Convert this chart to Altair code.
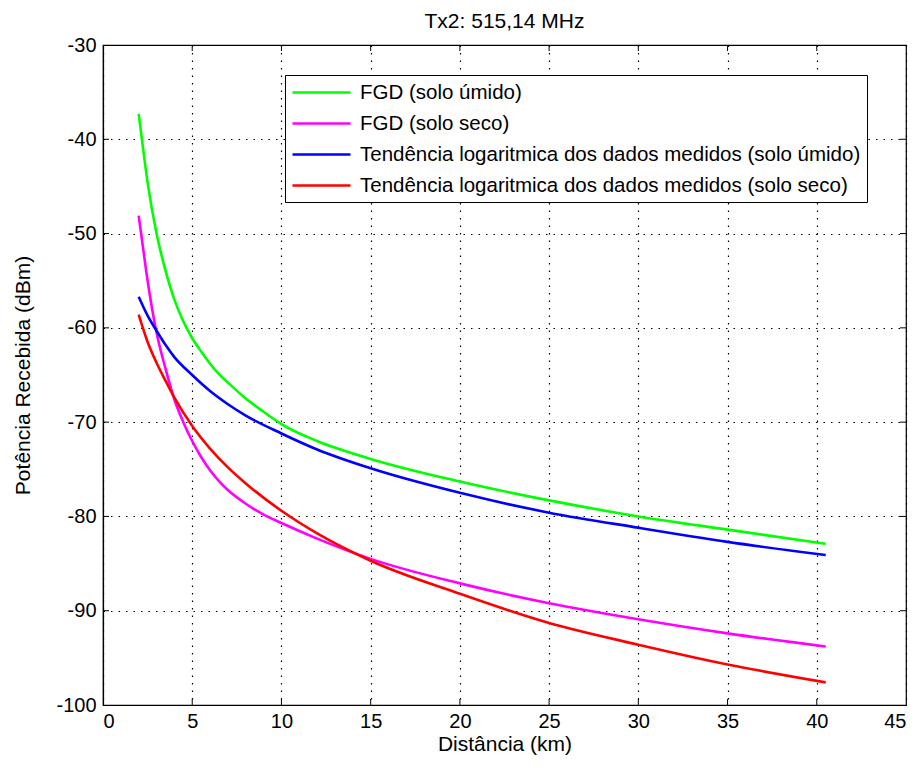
import altair as alt
import pandas as pd

# ---- data ----
x_fgd = [2, 2.2, 2.5, 3, 3.5, 4, 4.5, 5, 5.5, 6, 6.5, 7, 8, 9, 10, 12, 15, 20, 25, 30, 35, 40.5]
fgd_umido = [-37.3, -40.3, -44.6, -50.0, -53.9, -57.0, -59.3, -61.1, -62.5, -63.8, -64.9, -65.8,
             -67.5, -68.9, -70.2, -72.0, -73.9, -76.3, -78.3, -80.0, -81.4, -82.9]
fgd_seco = [-48.1, -50.9, -55.0, -60.5, -64.3, -67.6, -70.0, -72.0, -73.7, -75.1, -76.25, -77.2,
            -78.65, -79.8, -80.7, -82.35, -84.5, -87.1, -89.2, -90.9, -92.4, -93.8]

x_trend = [2, 2.5, 3, 3.5, 4, 5, 6, 7, 8, 10, 12, 15, 20, 25, 30, 35, 40.5]
trend_umido = [-56.7, -58.7, -60.3, -61.8, -63.1, -65.0, -66.7, -68.1, -69.3, -71.2, -72.9,
               -74.9, -77.5, -79.6, -81.2, -82.7, -84.1]
trend_seco = [-58.6, -61.5, -63.7, -65.6, -67.4, -70.4, -72.8, -74.8, -76.5, -79.4, -81.8,
              -84.7, -88.2, -91.3, -93.6, -95.7, -97.6]

series_names = [
    "FGD (solo úmido)",
    "FGD (solo seco)",
    "Tendência logaritmica dos dados medidos (solo úmido)",
    "Tendência logaritmica dos dados medidos (solo seco)",
]
series_colors = ["#00ff00", "#ff00ff", "#0000ff", "#ff0000"]

x_ticks = [0, 5, 10, 15, 20, 25, 30, 35, 40, 45]
y_ticks = [-100, -90, -80, -70, -60, -50, -40, -30]

# ---- build the long table ----
rows = []
for name, xs, ys in [
    (series_names[0], x_fgd, fgd_umido),
    (series_names[1], x_fgd, fgd_seco),
    (series_names[2], x_trend, trend_umido),
    (series_names[3], x_trend, trend_seco),
]:
    for i, (xv, yv) in enumerate(zip(xs, ys)):
        rows.append({"serie": name, "x": xv, "y": yv, "ord": i})
df = pd.DataFrame(rows)

W, H = 803, 660
FONT = "Liberation Sans"

xscale = alt.Scale(domain=[0, 45], nice=False, zero=False)
yscale = alt.Scale(domain=[-100, -30], nice=False, zero=False)

lines = alt.Chart(df).mark_line(strokeWidth=2.6, interpolate="monotone").encode(
    x=alt.X("x:Q", scale=xscale,
            axis=alt.Axis(values=x_ticks, title="Distância (km)", grid=True,
                          ticks=False, labelPadding=6, titlePadding=2,
                          labelExpr="toString(datum.value)")),
    y=alt.Y("y:Q", scale=yscale,
            axis=alt.Axis(values=y_ticks, title="Potência Recebida (dBm)", grid=True,
                          ticks=False, labelPadding=7, titlePadding=22,
                          labelExpr="toString(datum.value)")),
    color=alt.Color("serie:N",
                    scale=alt.Scale(domain=series_names, range=series_colors),
                    legend=alt.Legend(title=None, orient="none", legendX=182, legendY=30,
                                      symbolType="M-1,0H4.8", symbolSize=400,
                                      symbolStrokeWidth=2.6, labelLimit=800,
                                      strokeColor="black", fillColor="white",
                                      padding=6, rowPadding=9, labelOffset=46)),
    order="ord:Q",
)

tick_x_df = pd.DataFrame({"t": x_ticks[1:-1]})
tick_y_df = pd.DataFrame({"t": y_ticks[1:-1]})
TL = 6
bx = alt.Chart(tick_x_df).mark_rule(color="black", strokeWidth=1).encode(
    x=alt.X("t:Q", scale=xscale), y=alt.value(H), y2=alt.value(H - TL))
tx = alt.Chart(tick_x_df).mark_rule(color="black", strokeWidth=1).encode(
    x=alt.X("t:Q", scale=xscale), y=alt.value(0), y2=alt.value(TL))
ly = alt.Chart(tick_y_df).mark_rule(color="black", strokeWidth=1).encode(
    y=alt.Y("t:Q", scale=yscale), x=alt.value(0), x2=alt.value(TL))
ry = alt.Chart(tick_y_df).mark_rule(color="black", strokeWidth=1).encode(
    y=alt.Y("t:Q", scale=yscale), x=alt.value(W), x2=alt.value(W - TL))

chart = alt.layer(bx, tx, ly, ry, lines).properties(
    width=W, height=H,
    title=alt.Title("Tx2: 515,14 MHz", fontSize=21, fontWeight="normal", font=FONT,
                    color="black", offset=3),
    autosize=alt.AutoSizeParams(type="none"),
    padding={"left": 95, "top": 37, "right": 10, "bottom": 56},
).configure_view(
    stroke="black", strokeWidth=1.2
).configure_axis(
    labelFont=FONT, labelFontSize=20, labelColor="black",
    titleFont=FONT, titleFontSize=21, titleFontWeight="normal", titleColor="black",
    domainColor="black", domainWidth=1.2,
    gridColor="black", gridOpacity=1, gridDash=[1.5, 6], gridWidth=1.2,
).configure_legend(
    labelFont=FONT, labelFontSize=20.5, labelColor="black",
)

chart.save("out.html", embed_options={"renderer": "svg", "actions": False})
